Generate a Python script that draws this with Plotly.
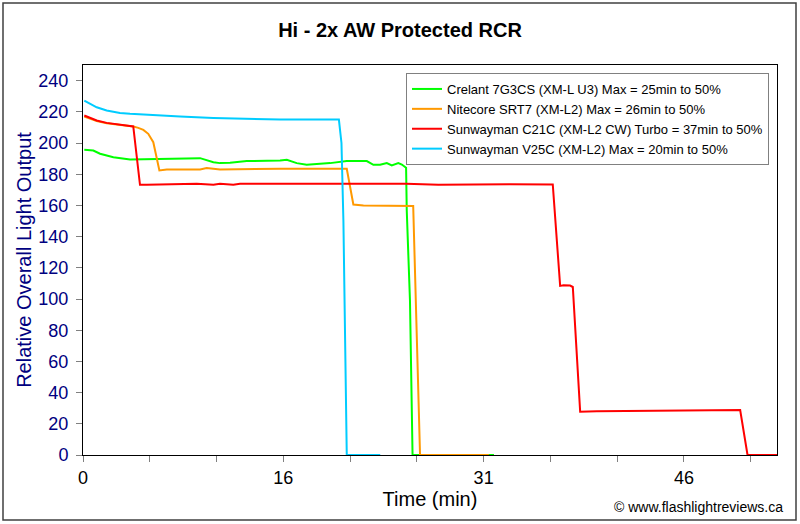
import plotly.graph_objects as go

# Hi - 2x AW Protected RCR runtime comparison
font = "Liberation Sans, Arial, sans-serif"

# Crelant 7G3CS (XM-L U3)
crelant_t = [0.1, 0.8, 1.32, 2.35, 3.64, 8.8, 9.06, 10.09, 10.6, 11.38, 12.67, 15.25,
             15.77, 16.54, 17.31, 19.12, 20.41, 21.96, 22.47, 22.99, 23.51, 23.89,
             24.4, 24.67, 25.0, 25.05, 25.3, 25.5, 31.8]
crelant_y = [195.6, 195.2, 193.1, 190.9, 189.4, 189.9, 190.3, 187.7, 187.1, 187.3, 188.4, 188.8,
             189.2, 187.1, 186.0, 187.1, 188.4, 188.4, 186.0, 186.0, 187.1, 185.6,
             187.1, 186.2, 184.1, 157.0, 99.0, 0, 0]

# Nitecore SRT7 (XM-L2)
nitecore_t = [0.1, 0.54, 1.06, 1.83, 2.86, 3.89, 4.28, 4.67, 5.05, 5.44, 5.91, 6.48, 7.51,
              9.06, 9.57, 10.6, 15.25, 20.41, 20.92, 21.7, 25.55, 25.75, 26.08, 31.4]
nitecore_y = [217.0, 215.6, 214.0, 212.7, 211.6, 210.6, 209.7, 208.4, 205.9, 200.5, 182.4, 183.0, 183.0,
              183.0, 183.9, 183.0, 183.5, 183.5, 160.6, 160.0, 159.6, 99.0, 0, 0]

# Sunwayman C21C (XM-L2 CW) Turbo
c21c_t = [0.1, 0.54, 1.06, 1.83, 2.86, 3.89, 4.41, 4.93, 8.8, 10.09, 10.6, 11.63, 12.15, 15.25,
          20.0, 25.0, 27.5, 30.0, 33.0, 36.35, 36.92, 37.18, 37.69, 37.9, 38.47, 39.76,
          45.0, 50.85, 51.42, 53.7]
c21c_y = [217.6, 216.1, 214.4, 212.9, 211.6, 210.6, 173.2, 173.2, 173.9, 173.2, 173.9, 173.2, 173.9, 173.9,
          174.0, 173.9, 173.3, 173.6, 173.6, 173.4, 108.4, 108.8, 108.6, 107.7, 27.7, 28.0,
          28.2, 28.8, 0, 0]

# Sunwayman V25C (XM-L2)
v25c_t = [0.1, 0.54, 1.06, 1.83, 2.86, 3.64, 4.93, 7.51, 10.09, 12.67, 15.25, 19.8, 20.0,
          20.15, 20.41, 23.0]
v25c_y = [227.2, 225.1, 222.9, 220.8, 219.3, 218.7, 218.0, 217.0, 216.1, 215.5, 215.0, 215.0, 200.0,
          150.0, 0, 0]

names = [
    "Crelant 7G3CS (XM-L U3) Max = 25min to 50%",
    "Nitecore SRT7 (XM-L2) Max = 26min to 50%",
    "Sunwayman C21C (XM-L2 CW) Turbo = 37min to 50%",
    "Sunwayman V25C (XM-L2) Max = 20min to 50%",
]
colors = ["#00FF00", "#FF9900", "#FF0000", "#00CCFF"]

x_tickvals = [0, 15.5, 31, 46.5]
x_ticktext = ["0", "16", "31", "46"]

fig = go.Figure()
for t, y, name, c in zip([crelant_t, nitecore_t, c21c_t, v25c_t],
                         [crelant_y, nitecore_y, c21c_y, v25c_y], names, colors):
    fig.add_trace(go.Scatter(x=t, y=y, name=name, mode="lines",
                             line=dict(color=c, width=2)))

fig.update_layout(
    width=800, height=524,
    margin=dict(l=83, r=23, t=65, b=69),
    paper_bgcolor="white", plot_bgcolor="white",
    font=dict(family=font, color="black"),
    title=dict(text="<b>Hi - 2x AW Protected RCR</b>", x=0.5, xanchor="center",
               y=1 - 30 / 524, yanchor="middle", font=dict(size=20, color="black")),
    legend=dict(x=(406 - 83) / 694, y=(455 - 73) / 390, xanchor="left", yanchor="top",
                bgcolor="white", bordercolor="#808080", borderwidth=1,
                font=dict(size=13, color="black"), itemwidth=30, tracegroupgap=0),
    showlegend=True,
)

fig.update_xaxes(
    range=[0, 53.7], tickmode="array", tickvals=x_tickvals, ticktext=x_ticktext,
    ticks="outside", ticklen=6, tickcolor="#808080",
    minor=dict(tickmode="linear", tick0=0, dtick=15.5 / 3, ticks="outside", ticklen=6, tickcolor="#808080"),
    showgrid=False, zeroline=False, showline=True, linecolor="black", linewidth=1, mirror=True,
    tickfont=dict(size=18, color="black"), layer="below traces",
    title=dict(text="Time (min)", font=dict(size=20, color="black"), standoff=4),
)
fig.update_yaxes(
    range=[0, 250], dtick=20, tick0=0,
    ticks="outside", ticklen=6, tickcolor="#808080", ticklabelstandoff=4,
    showgrid=False, zeroline=False, showline=True, linecolor="black", linewidth=1, mirror=True,
    tickfont=dict(size=18, color="#000080"), layer="below traces",
    title=dict(text="Relative Overall Light Output", font=dict(size=20, color="#000080"), standoff=1),
)

# outer chart frame
fig.add_shape(type="rect", xref="paper", yref="paper",
              x0=(3 - 83) / 694, x1=(796 - 83) / 694, y0=(455 - 520) / 390, y1=(455 - 3) / 390,
              line=dict(color="#404040", width=1.5), layer="below")

fig.add_annotation(text="© www.flashlightreviews.ca", xref="paper", yref="paper",
                   x=(785 - 83) / 694, y=(455 - 507) / 390, xanchor="right", yanchor="middle",
                   showarrow=False, font=dict(size=14, color="black"))

fig.write_html("out.html", config={"displayModeBar": False},
               post_script="document.body.style.margin='0';")
